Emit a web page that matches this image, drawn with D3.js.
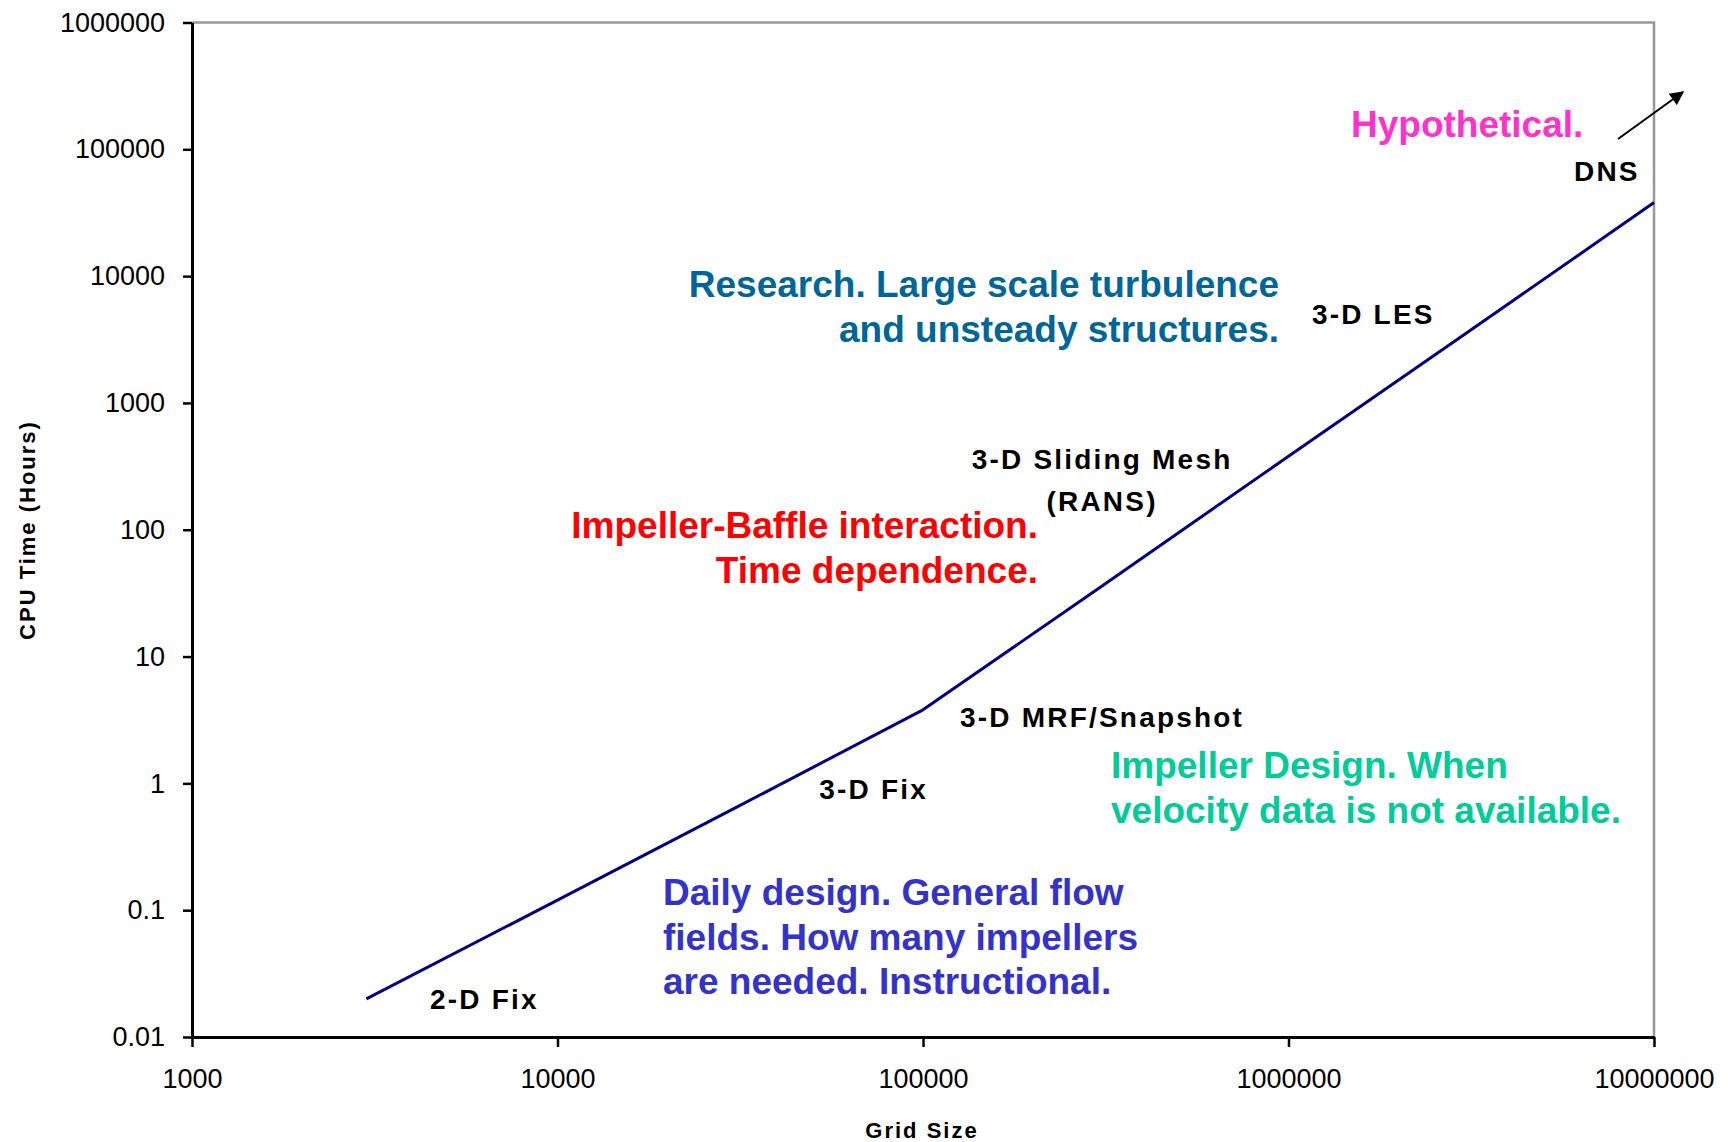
<!DOCTYPE html>
<html>
<head>
<meta charset="utf-8">
<script src="https://cdn.jsdelivr.net/npm/d3@7"></script>
<style>
  html, body { margin: 0; padding: 0; background: #fff; }
  svg { display: block; font-family: "Liberation Sans", Arial, sans-serif; }
</style>
</head>
<body>
<svg id="chart" width="1728" height="1142"></svg>
<script>
// CPU time needed versus grid size, log-log
const gridSize = [3000, 10000, 30000, 100000, 300000, 1000000, 3000000, 10000000];
const cpuHours = [0.02, 0.12, 0.62, 3.8, 34, 380, 3400, 38000];

const xTicks = [1000, 10000, 100000, 1000000, 10000000];
const xTickLabels = ["1000", "10000", "100000", "1000000", "10000000"];
const yTicks = [0.01, 0.1, 1, 10, 100, 1000, 10000, 100000, 1000000];
const yTickLabels = ["0.01", "0.1", "1", "10", "100", "1000", "10000", "100000", "1000000"];

// Method labels placed along the curve (anchor in data units)
const methodLabels = [
  { text: "2-D Fix", x: 4480, y: 0.0166, anchor: "start" },
  { text: "3-D Fix", x: 52000, y: 0.753, anchor: "start" },
  { text: "3-D MRF/Snapshot", x: 126300, y: 2.79, anchor: "start" },
  { text: "3-D Sliding Mesh", x: 309000, y: 299, anchor: "middle" },
  { text: "(RANS)", x: 309000, y: 140.6, anchor: "middle" },
  { text: "3-D LES", x: 1159000, y: 4195, anchor: "start" },
  { text: "DNS", x: 6040000, y: 56230, anchor: "start" }
];

// Application notes
const notes = [
  { lines: ["Hypothetical."], color: "#ff33cc", anchor: "start", x: 1351, y: 137 },
  { lines: ["Research. Large scale turbulence", "and unsteady structures."], color: "#006699", anchor: "end", x: 1279, y: 297 },
  { lines: ["Impeller-Baffle interaction.", "Time dependence."], color: "#ff0000", anchor: "end", x: 1038, y: 538 },
  { lines: ["Impeller Design. When", "velocity data is not available."], color: "#00cc99", anchor: "start", x: 1111, y: 778 },
  { lines: ["Daily design. General flow", "fields. How many impellers", "are needed. Instructional."], color: "#3333cc", anchor: "start", x: 663, y: 905 }
];

const svg = d3.select("#chart");
const plotLeft = 192, plotRight = 1654, plotTop = 22.5, plotBottom = 1037;

const x = d3.scaleLog().domain([1000, 10000000]).range([plotLeft, plotRight]);
const y = d3.scaleLog().domain([0.01, 1000000]).range([plotBottom, plotTop]);

// Plot frame: grey top and right edges
svg.append("path")
  .attr("d", `M${plotLeft},${plotTop}H${plotRight}V${plotBottom}`)
  .attr("fill", "none")
  .attr("stroke", "#999")
  .attr("stroke-width", 2.5);

// Curve
svg.append("path")
  .datum(gridSize.map((g, i) => [g, cpuHours[i]]))
  .attr("fill", "none")
  .attr("stroke", "#000080")
  .attr("stroke-width", 3)
  .attr("stroke-linejoin", "round")
  .attr("d", d3.line().x(d => x(d[0])).y(d => y(d[1])));

// Axes
const yAxis = svg.append("g")
  .attr("transform", `translate(${plotLeft},0)`)
  .call(d3.axisLeft(y).tickValues(yTicks).tickFormat((d, i) => yTickLabels[i])
    .tickSize(9).tickPadding(18).tickSizeOuter(0));

const xAxis = svg.append("g")
  .attr("transform", `translate(0,${plotBottom})`)
  .call(d3.axisBottom(x).tickValues(xTicks).tickFormat((d, i) => xTickLabels[i])
    .tickSize(10).tickPadding(22).tickSizeOuter(0));

[yAxis, xAxis].forEach(g => {
  g.select(".domain").attr("stroke", "#000").attr("stroke-width", 3);
  g.selectAll(".tick line").attr("stroke", "#000").attr("stroke-width", 2.5);
  g.selectAll(".tick text")
    .attr("fill", "#000")
    .style("font-family", '"Liberation Sans", Arial, sans-serif')
    .style("font-size", "27px");
});

// Axis titles
svg.append("text")
  .attr("x", 922).attr("y", 1138)
  .attr("text-anchor", "middle")
  .style("font-size", "22px").style("font-weight", "bold").style("letter-spacing", "2px")
  .text("Grid Size");

svg.append("text")
  .attr("transform", "translate(35,530) rotate(-90)")
  .attr("text-anchor", "middle")
  .style("font-size", "22px").style("font-weight", "bold").style("letter-spacing", "2px")
  .text("CPU Time (Hours)");

// Method labels
svg.append("g").selectAll("text")
  .data(methodLabels)
  .join("text")
  .attr("x", d => x(d.x))
  .attr("y", d => y(d.y))
  .attr("text-anchor", d => d.anchor)
  .style("font-size", "28px").style("font-weight", "bold").style("letter-spacing", "2.2px")
  .attr("fill", "#000")
  .text(d => d.text);

// Application notes
const noteG = svg.append("g");
notes.forEach(n => {
  const t = noteG.append("text")
    .attr("text-anchor", n.anchor)
    .attr("fill", n.color)
    .style("font-size", "37px").style("font-weight", "bold");
  n.lines.forEach((line, i) => {
    t.append("tspan").attr("x", n.x).attr("y", n.y + i * 44.5).text(line);
  });
});

// Arrow pointing beyond the chart for DNS
svg.append("defs").append("marker")
  .attr("id", "head")
  .attr("viewBox", "0 0 10 10")
  .attr("refX", 9).attr("refY", 5)
  .attr("markerWidth", 8).attr("markerHeight", 7)
  .attr("markerUnits", "strokeWidth")
  .attr("orient", "auto")
  .append("path").attr("d", "M0,0L10,5L0,10Z").attr("fill", "#000");

svg.append("line")
  .attr("x1", 1618).attr("y1", 139)
  .attr("x2", 1683).attr("y2", 92)
  .attr("stroke", "#000").attr("stroke-width", 2)
  .attr("marker-end", "url(#head)");
</script>
</body>
</html>
